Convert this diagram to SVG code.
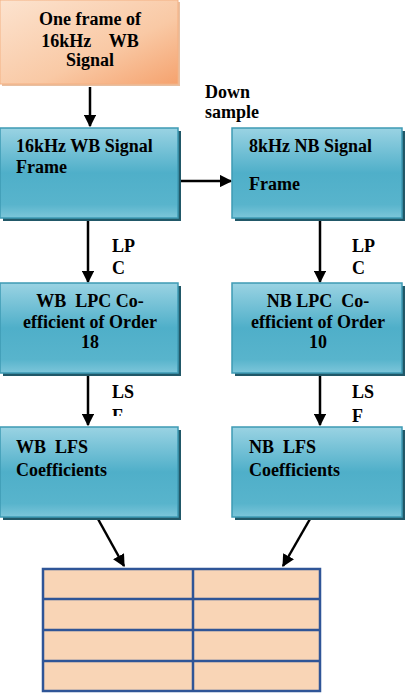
<svg xmlns="http://www.w3.org/2000/svg" width="408" height="698" viewBox="0 0 408 698">
<style>
.t{font-family:"Liberation Serif","Times New Roman",serif;font-weight:bold;font-size:18px;fill:#000}
.c{text-anchor:middle}
.box{fill:url(#blue);stroke:#3E9AB4;stroke-width:1.5}
.sh{fill:#215868}
.ln{stroke:#000;stroke-width:2.5;fill:none;marker-end:url(#ah)}
.grid{stroke:#2F5597;stroke-width:2.5;fill:none}
</style>
<defs>
<linearGradient id="blue" x1="0" y1="0" x2="0" y2="1">
<stop offset="0" stop-color="#9AD3E3"/>
<stop offset="0.5" stop-color="#4FAFC9"/>
<stop offset="0.85" stop-color="#58B4CC"/>
<stop offset="1" stop-color="#7DC6DA"/>
</linearGradient>
<linearGradient id="orange" x1="0" y1="0" x2="1" y2="1">
<stop offset="0" stop-color="#FCE3CF"/>
<stop offset="0.6" stop-color="#F9C9A5"/>
<stop offset="1" stop-color="#F5A26E"/>
</linearGradient>
<marker id="ah" viewBox="0 0 10 10" refX="9" refY="5" markerWidth="5" markerHeight="5" orient="auto" markerUnits="strokeWidth">
<path d="M0,0 L10,5 L0,10 z" fill="#000"/>
</marker>
<clipPath id="clipL"><rect x="100" y="380" width="60" height="36"/></clipPath>
</defs>

<g id="connectors">
<line class="ln" x1="90" y1="87" x2="90" y2="126"/>
<line class="ln" x1="179" y1="181" x2="231" y2="181"/>
<line class="ln" x1="88" y1="220" x2="88" y2="282"/>
<line class="ln" x1="320" y1="220" x2="320" y2="282"/>
<line class="ln" x1="88" y1="374" x2="88" y2="425"/>
<line class="ln" x1="320" y1="374" x2="320" y2="425"/>
<line class="ln" x1="98" y1="519" x2="124" y2="566"/>
<line class="ln" x1="310" y1="519" x2="283" y2="566"/>
</g>

<g id="labels">
<text class="t" x="205" y="98">Down</text>
<text class="t" x="205" y="118">sample</text>
<text class="t" x="112" y="252">LP</text>
<text class="t" x="112" y="274">C</text>
<text class="t" x="352" y="252">LP</text>
<text class="t" x="352" y="274">C</text>
<text class="t" x="112" y="398">LS</text>
<text class="t" x="112" y="422" clip-path="url(#clipL)">F</text>
<text class="t" x="352" y="398">LS</text>
<text class="t" x="352" y="422">F</text>
</g>

<g id="n-input">
<rect x="2" y="2" width="178" height="84" fill="#E8BFA0"/>
<rect x="0" y="0" width="178" height="84" fill="url(#orange)" stroke="#F4B183" stroke-width="1"/>
<text class="t c" x="90" y="25">One frame of</text>
<text class="t c" x="90" y="47" xml:space="preserve">16kHz    WB</text>
<text class="t c" x="90" y="66">Signal</text>
</g>

<g id="n-wbframe">
<rect class="sh" x="3" y="131" width="178" height="90"/>
<rect class="box" x="0" y="128" width="178" height="90"/>
<text class="t" x="16" y="152">16kHz WB Signal</text>
<text class="t" x="16" y="173">Frame</text>
</g>

<g id="n-nbframe">
<rect class="sh" x="235" y="131" width="170" height="90"/>
<rect class="box" x="232" y="128" width="170" height="90"/>
<text class="t" x="249" y="152">8kHz NB Signal</text>
<text class="t" x="249" y="190">Frame</text>
</g>

<g id="n-wblpc">
<rect class="sh" x="3" y="286" width="178" height="90"/>
<rect class="box" x="0" y="283" width="178" height="90"/>
<text class="t c" x="90" y="307" xml:space="preserve">WB  LPC Co-</text>
<text class="t c" x="90" y="328">efficient of Order</text>
<text class="t c" x="90" y="348">18</text>
</g>

<g id="n-nblpc">
<rect class="sh" x="235" y="286" width="170" height="90"/>
<rect class="box" x="232" y="283" width="170" height="90"/>
<text class="t c" x="318" y="307" xml:space="preserve">NB LPC  Co-</text>
<text class="t c" x="318" y="328">efficient of Order</text>
<text class="t c" x="318" y="348">10</text>
</g>

<g id="n-wblsf">
<rect class="sh" x="3" y="430" width="178" height="90"/>
<rect class="box" x="0" y="427" width="178" height="90"/>
<text class="t" x="16" y="453" xml:space="preserve">WB  LFS</text>
<text class="t" x="16" y="476">Coefficients</text>
</g>

<g id="n-nblsf">
<rect class="sh" x="235" y="430" width="170" height="90"/>
<rect class="box" x="232" y="427" width="170" height="90"/>
<text class="t" x="249" y="453" xml:space="preserve">NB  LFS</text>
<text class="t" x="249" y="476">Coefficients</text>
</g>

<g id="n-table">
<rect x="43" y="569" width="277" height="122" fill="#F9D5B6"/>
<rect class="grid" x="43" y="569" width="277" height="122"/>
<line class="grid" x1="43" y1="599" x2="320" y2="599"/>
<line class="grid" x1="43" y1="630" x2="320" y2="630"/>
<line class="grid" x1="43" y1="661" x2="320" y2="661"/>
<line class="grid" x1="193" y1="569" x2="193" y2="691"/>
</g>
</svg>
